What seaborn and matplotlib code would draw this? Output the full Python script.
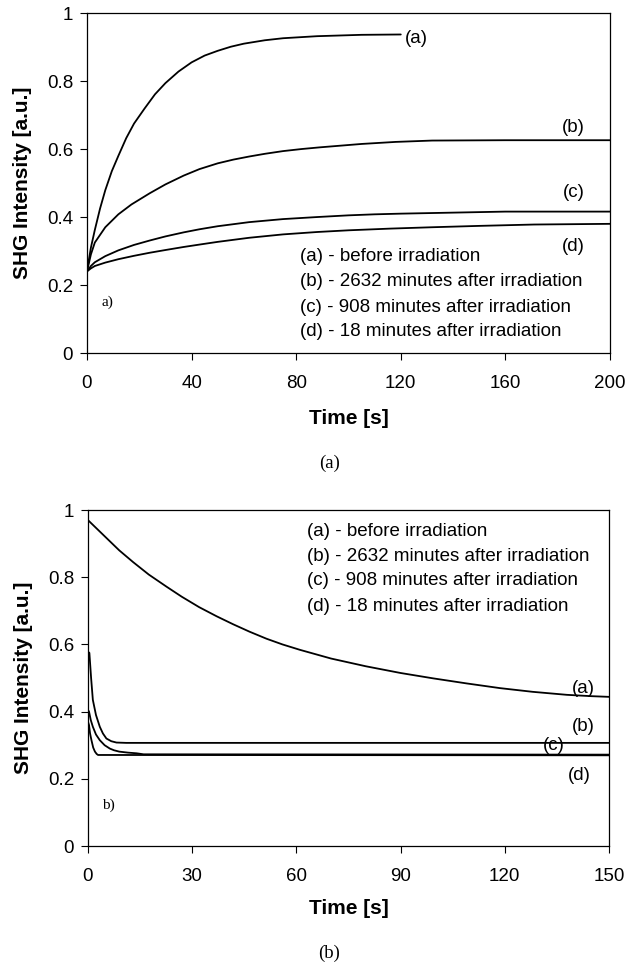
import numpy as np
import pandas as pd
import matplotlib.pyplot as plt
import seaborn as sns

# ---- panel (a): build-up curves, time in s ----
top_t_a = [0, 0.5, 1.5, 3, 5, 7, 9.5, 12, 15, 18, 22, 26, 30, 35, 40, 45, 50, 55, 60, 68, 75, 88, 105, 120]
top_v_a = [0.24, 0.264, 0.31, 0.362, 0.425, 0.479, 0.535, 0.58, 0.632, 0.675, 0.719, 0.761, 0.794, 0.828,
           0.855, 0.875, 0.889, 0.901, 0.91, 0.92, 0.926, 0.932, 0.936, 0.937]
top_t_b = [0, 1.5, 3, 7, 12, 17, 24, 30, 37, 43, 50, 56, 62, 68, 75, 82, 89, 97, 105, 118, 132, 160, 200]
top_v_b = [0.24, 0.29, 0.325, 0.37, 0.408, 0.437, 0.47, 0.496, 0.522, 0.541, 0.558, 0.569, 0.578,
           0.586, 0.594, 0.6, 0.605, 0.61, 0.615, 0.621, 0.625, 0.626, 0.626]
top_t_c = [0, 1.5, 3, 7, 12, 18, 24, 30, 37, 43, 50, 62, 75, 88, 100, 110, 120, 140, 160, 200]
top_v_c = [0.24, 0.256, 0.267, 0.285, 0.302, 0.318, 0.331, 0.343, 0.355, 0.364, 0.373, 0.385, 0.394,
           0.4, 0.405, 0.408, 0.41, 0.413, 0.416, 0.416]
top_t_d = [0, 1.5, 3, 7, 12, 18, 24, 30, 37, 43, 50, 62, 75, 88, 100, 116, 132, 150, 171, 200]
top_v_d = [0.24, 0.249, 0.256, 0.266, 0.276, 0.286, 0.295, 0.303, 0.312, 0.319, 0.327, 0.339, 0.349,
           0.356, 0.361, 0.366, 0.37, 0.374, 0.378, 0.38]

# ---- panel (b): decay curves ----
bot_t_a = [0, 0.4, 5, 9, 13, 17.5, 22.6, 27, 32, 37, 41.8, 46.5, 51.4, 56, 61, 70, 80, 90, 99.4,
           109, 118.6, 128, 137.9, 145, 150]
bot_v_a = [0.97, 0.966, 0.92, 0.88, 0.845, 0.808, 0.772, 0.742, 0.711, 0.684, 0.66, 0.638, 0.617,
           0.6, 0.584, 0.558, 0.535, 0.515, 0.499, 0.484, 0.47, 0.459, 0.45, 0.446, 0.444]
bot_t_b = [0, 0.4, 0.9, 1.4, 2.3, 3.4, 4.3, 5.3, 6.7, 8.2, 11, 150]
bot_v_b = [0.578, 0.575, 0.5, 0.435, 0.39, 0.355, 0.335, 0.32, 0.312, 0.308, 0.307, 0.307]
bot_t_c = [0, 0.3, 0.8, 1.4, 2.3, 3.4, 4.8, 6.3, 7.5, 9, 11.5, 14, 16, 150]
bot_v_c = [0.405, 0.4, 0.375, 0.355, 0.332, 0.315, 0.3, 0.29, 0.285, 0.281, 0.278, 0.276, 0.273, 0.272]
bot_t_d = [0, 0.3, 0.6, 1, 1.5, 2, 2.5, 2.9, 150]
bot_v_d = [0.37, 0.36, 0.335, 0.315, 0.293, 0.281, 0.274, 0.271, 0.27]

curve_tags = ['(a)', '(b)', '(c)', '(d)']
legend_lines = ['(a) - before irradiation',
                '(b) - 2632 minutes after irradiation',
                '(c) - 908 minutes after irradiation',
                '(d) - 18 minutes after irradiation']
ytick_vals = [0, 0.2, 0.4, 0.6, 0.8, 1]
ytick_labels = ['0', '0.2', '0.4', '0.6', '0.8', '1']
top_xticks = [0, 40, 80, 120, 160, 200]
bot_xticks = [0, 30, 60, 90, 120, 150]

sns.set_style('ticks', {'axes.edgecolor': 'black', 'xtick.color': 'black',
                        'ytick.color': 'black', 'text.color': 'black',
                        'axes.labelcolor': 'black'})
plt.rcParams['font.family'] = ['Liberation Sans', 'DejaVu Sans']

fig = plt.figure(figsize=(6.28, 9.68), dpi=100)
ax1 = fig.add_axes([0.1385, 0.6353, 0.8328, 0.3512])
ax2 = fig.add_axes([0.1401, 0.1260, 0.8296, 0.3471])

top = [(top_t_a, top_v_a), (top_t_b, top_v_b), (top_t_c, top_v_c), (top_t_d, top_v_d)]
bot = [(bot_t_a, bot_v_a), (bot_t_b, bot_v_b), (bot_t_c, bot_v_c), (bot_t_d, bot_v_d)]

for ax, curves in [(ax1, top), (ax2, bot)]:
    for t, v in curves:
        sns.lineplot(x=t, y=v, ax=ax, color='black', lw=1.3, estimator=None, sort=False)

# curve tags next to lines
top_tag_pos = [(125.8, 0.926), (186, 0.662), (186, 0.471), (186, 0.312)]
bot_tag_pos = [(142.5, 0.47), (142.5, 0.357), (134, 0.30), (141.4, 0.211)]
for ax, pos in [(ax1, top_tag_pos), (ax2, bot_tag_pos)]:
    for tag, (x, y) in zip(curve_tags, pos):
        ax.text(x, y, tag, fontsize=13.5, ha='center', va='center')

# text legend inside each panel
for ax, x0, ys in [(ax1, 81.5, [0.285, 0.209, 0.135, 0.062]),
                   (ax2, 63, [0.9375, 0.863, 0.789, 0.714])]:
    for line, y in zip(legend_lines, ys):
        ax.text(x0, y, line, fontsize=13.5, ha='left', va='center')

ax1.text(8, 0.15, 'a)', fontsize=11, family='Liberation Serif', ha='center', va='center')
ax2.text(5.8, 0.122, 'b)', fontsize=11, family='Liberation Serif', ha='center', va='center')

for ax, xt, xmax, ylab_y in [(ax1, top_xticks, 200, -0.165), (ax2, bot_xticks, 150, -0.158)]:
    ax.set_xlim(0, xmax)
    ax.set_ylim(0, 1)
    ax.set_xticks(xt)
    ax.set_xticklabels([str(x) for x in xt])
    ax.set_yticks(ytick_vals)
    ax.set_yticklabels(ytick_labels)
    ax.tick_params(direction='out', length=5, width=0.8, labelsize=13.5)
    ax.tick_params(axis='x', pad=11)
    ax.tick_params(axis='y', pad=5)
    for s in ax.spines.values():
        s.set_linewidth(0.9)
        s.set_visible(True)
    ax.set_xlabel('Time [s]', fontsize=15, fontweight='bold', va='top')
    ax.xaxis.set_label_coords(0.5, ylab_y)
    ax.set_ylabel('SHG Intensity [a.u.]', fontsize=15, fontweight='bold')
    ax.yaxis.set_label_coords(-0.105, 0.5)

fig.text(330 / 628, 1 - 463 / 968, '(a)', fontsize=13.5, family='Liberation Serif', ha='center', va='center')
fig.text(329 / 628, 1 - 953 / 968, '(b)', fontsize=13.5, family='Liberation Serif', ha='center', va='center')

fig.savefig('out.png', dpi=100)
